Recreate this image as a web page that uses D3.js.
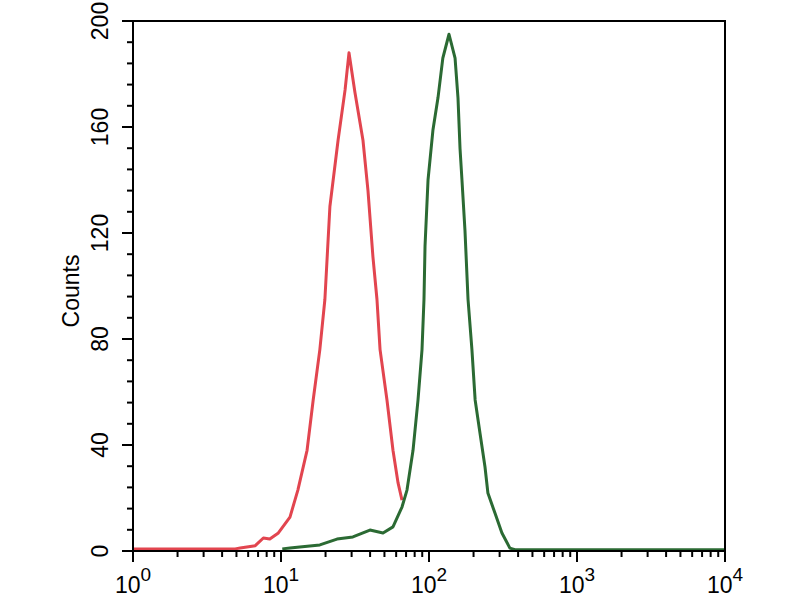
<!DOCTYPE html>
<html>
<head>
<meta charset="utf-8">
<script src="https://cdn.jsdelivr.net/npm/d3@7"></script>
<style>
  body { margin: 0; background: #fff; }
  svg text { font-family: "Liberation Sans", Arial, sans-serif; fill: #000; }
</style>
</head>
<body>
<svg id="chart" width="800" height="600"></svg>
<script>
// control (red) histogram: fluorescence, counts
let redX = [1, 2.1, 4.9, 5.3, 6.7, 7.6, 8.4, 9.6, 11.5, 13.0, 15.0, 16.5, 18.3, 19.8, 21.4, 24.3, 27.1, 28.8,
  31.6, 35.8, 38.7, 41.8, 44.5, 46.7, 52.0, 57.1, 61.8, 65.7];
let redY = [0.8, 0.8, 0.8, 1.1, 2, 4.9, 4.5, 6.8, 12.8, 23, 38, 57, 76, 95, 130, 155, 174, 188,
  173, 155, 136, 111, 95, 76, 57, 38, 25.7, 19.2];

// antibody (green) histogram
let greenX = [10.2, 11.5, 13.4, 18.3, 23.9, 30.6, 39.9, 48.9, 57.1, 65.7, 71.0, 78.0, 84.3, 89.7, 92.5, 94.0,
  98.5, 106.4, 115, 124, 136.5, 150, 157, 162, 167, 175, 183.5, 195, 205, 221, 239, 250, 279, 311, 352, 381, 10000];
let greenY = [0.8, 1.1, 1.5, 2.3, 4.5, 5.3, 7.9, 6.8, 9.1, 16.6, 23, 38, 57, 76, 95, 115,
  140, 159, 171, 186, 195, 186, 171, 152, 140, 121, 95, 76, 57, 44.5, 31.7, 21.9, 14.3, 6.8, 1.1, 0.5, 0.5];

let yTicks = [0, 40, 80, 120, 160, 200];
let xDecades = [0, 1, 2, 3, 4];

let svg = d3.select("#chart");
let mLeft = 133, mRight = 725, mTop = 21, mBottom = 551;

let x = d3.scaleLog().domain([1, 10000]).range([mLeft, mRight]);
let y = d3.scaleLinear().domain([0, 200]).range([mBottom, mTop]);

svg.append("clipPath").attr("id", "clip")
  .append("rect").attr("x", mLeft).attr("y", mTop - 2)
  .attr("width", mRight - mLeft).attr("height", mBottom - mTop + 2);

let line = d3.line().x(d => x(d[0])).y(d => y(d[1]));

function drawCurve(xs, ys, color) {
  svg.append("path")
    .datum(xs.map((v, i) => [v, ys[i]]))
    .attr("clip-path", "url(#clip)")
    .attr("d", line)
    .attr("fill", "none")
    .attr("stroke", color)
    .attr("stroke-width", 3)
    .attr("stroke-linejoin", "round");
}

drawCurve(redX, redY, "#e2454f");
drawCurve(greenX, greenY, "#2b6a33");

// frame
svg.append("rect")
  .attr("x", mLeft).attr("y", mTop)
  .attr("width", mRight - mLeft).attr("height", mBottom - mTop)
  .attr("fill", "none").attr("stroke", "#000").attr("stroke-width", 2);

// y axis, minor ticks every 8
let yAxis = svg.append("g");
yAxis.selectAll("line").data(d3.range(0, 201, 8))
  .enter().append("line")
  .attr("x1", d => d % 40 === 0 ? mLeft - 11 : mLeft - 6)
  .attr("x2", mLeft)
  .attr("y1", d => y(d)).attr("y2", d => y(d))
  .attr("stroke", "#000").attr("stroke-width", 2);
yAxis.selectAll("text").data(yTicks)
  .enter().append("text")
  .attr("transform", d => `translate(108,${y(d)}) rotate(-90)`)
  .attr("text-anchor", "middle")
  .style("font-size", "23px")
  .text(d => d);

// x axis, log ticks
let majors = [1, 10, 100, 1000, 10000];
let xTickVals = [];
for (let e = 0; e < 4; e++) {
  for (let k = 1; k < 10; k++) xTickVals.push(k * Math.pow(10, e));
}
xTickVals.push(10000);
let xAxis = svg.append("g");
xAxis.selectAll("line").data(xTickVals)
  .enter().append("line")
  .attr("x1", d => x(d)).attr("x2", d => x(d))
  .attr("y1", mBottom)
  .attr("y2", d => majors.includes(d) ? mBottom + 11 : mBottom + 6)
  .attr("stroke", "#000").attr("stroke-width", 2);
let xl = xAxis.selectAll("text").data(xDecades)
  .enter().append("text")
  .attr("x", d => x(Math.pow(10, d)))
  .attr("y", 593)
  .attr("text-anchor", "middle");
xl.append("tspan").style("font-size", "23px").text("10");
xl.append("tspan").style("font-size", "19px").attr("dy", -12).text(d => d);

svg.append("text")
  .attr("transform", "translate(79,291) rotate(-90)")
  .attr("text-anchor", "middle")
  .style("font-size", "23px")
  .text("Counts");
</script>
</body>
</html>
